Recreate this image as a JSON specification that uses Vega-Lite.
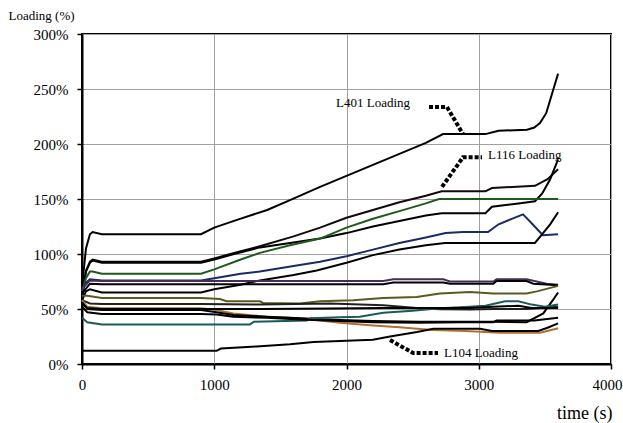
{
"$schema":"https://vega.github.io/schema/vega-lite/v6.json",
"width":529,"height":330,
"autosize":{"type":"none"},
"padding":{"left":82,"top":34,"right":12,"bottom":59},
"background":"white",
"config":{"view":{"stroke":"black","strokeWidth":2},"font":"Liberation Serif","axis":{"labelFont":"Liberation Serif","titleFont":"Liberation Serif"},"text":{"font":"Liberation Serif"}},
"datasets":{
"series":[
{"s":"S1","t":0,"v":70},{"s":"S1","t":30,"v":105},{"s":"S1","t":60,"v":118},{"s":"S1","t":80,"v":120},{"s":"S1","t":150,"v":118},{"s":"S1","t":900,"v":118},{"s":"S1","t":1000,"v":124},{"s":"S1","t":1172,"v":131},{"s":"S1","t":1400,"v":140},{"s":"S1","t":1573,"v":149},{"s":"S1","t":1800,"v":161},{"s":"S1","t":2000,"v":171},{"s":"S1","t":2200,"v":181},{"s":"S1","t":2400,"v":191},{"s":"S1","t":2600,"v":201},{"s":"S1","t":2730,"v":209},{"s":"S1","t":3050,"v":209},{"s":"S1","t":3150,"v":212},{"s":"S1","t":3365,"v":213},{"s":"S1","t":3420,"v":215},{"s":"S1","t":3463,"v":219},{"s":"S1","t":3510,"v":228},{"s":"S1","t":3540,"v":240},{"s":"S1","t":3570,"v":252},{"s":"S1","t":3600,"v":264},
{"s":"S2","t":0,"v":62},{"s":"S2","t":30,"v":85},{"s":"S2","t":60,"v":93},{"s":"S2","t":80,"v":95},{"s":"S2","t":150,"v":93},{"s":"S2","t":900,"v":93},{"s":"S2","t":1000,"v":96},{"s":"S2","t":1150,"v":101},{"s":"S2","t":1345,"v":107},{"s":"S2","t":1600,"v":116},{"s":"S2","t":1800,"v":124},{"s":"S2","t":2000,"v":133},{"s":"S2","t":2200,"v":140},{"s":"S2","t":2400,"v":147},{"s":"S2","t":2600,"v":153},{"s":"S2","t":2720,"v":157},{"s":"S2","t":3050,"v":157},{"s":"S2","t":3100,"v":160},{"s":"S2","t":3425,"v":162},{"s":"S2","t":3520,"v":168},{"s":"S2","t":3600,"v":177},
{"s":"S3","t":0,"v":60},{"s":"S3","t":30,"v":84},{"s":"S3","t":60,"v":92},{"s":"S3","t":80,"v":94},{"s":"S3","t":150,"v":92},{"s":"S3","t":900,"v":92},{"s":"S3","t":1000,"v":95},{"s":"S3","t":1150,"v":100},{"s":"S3","t":1345,"v":106},{"s":"S3","t":1573,"v":110},{"s":"S3","t":1800,"v":114},{"s":"S3","t":2000,"v":119},{"s":"S3","t":2200,"v":125},{"s":"S3","t":2400,"v":130},{"s":"S3","t":2600,"v":135},{"s":"S3","t":2720,"v":137},{"s":"S3","t":3050,"v":137},{"s":"S3","t":3100,"v":143},{"s":"S3","t":3300,"v":146},{"s":"S3","t":3425,"v":148},{"s":"S3","t":3480,"v":155},{"s":"S3","t":3540,"v":168},{"s":"S3","t":3600,"v":186},
{"s":"S4","t":0,"v":66},{"s":"S4","t":30,"v":78},{"s":"S4","t":60,"v":84},{"s":"S4","t":80,"v":84},{"s":"S4","t":150,"v":82},{"s":"S4","t":900,"v":82},{"s":"S4","t":1000,"v":86},{"s":"S4","t":1200,"v":95},{"s":"S4","t":1345,"v":101},{"s":"S4","t":1573,"v":108},{"s":"S4","t":1800,"v":114},{"s":"S4","t":2000,"v":124},{"s":"S4","t":2200,"v":132},{"s":"S4","t":2400,"v":139},{"s":"S4","t":2600,"v":146},{"s":"S4","t":2700,"v":150},{"s":"S4","t":3600,"v":150},
{"s":"S5","t":0,"v":66},{"s":"S5","t":30,"v":74},{"s":"S5","t":60,"v":77},{"s":"S5","t":150,"v":76},{"s":"S5","t":900,"v":76},{"s":"S5","t":1000,"v":78},{"s":"S5","t":1200,"v":82},{"s":"S5","t":1345,"v":84},{"s":"S5","t":1600,"v":89},{"s":"S5","t":1800,"v":93},{"s":"S5","t":2000,"v":98},{"s":"S5","t":2200,"v":104},{"s":"S5","t":2400,"v":110},{"s":"S5","t":2600,"v":115},{"s":"S5","t":2750,"v":119},{"s":"S5","t":2880,"v":120},{"s":"S5","t":3070,"v":120},{"s":"S5","t":3150,"v":127},{"s":"S5","t":3250,"v":132},{"s":"S5","t":3335,"v":136},{"s":"S5","t":3400,"v":128},{"s":"S5","t":3485,"v":117},{"s":"S5","t":3600,"v":118},
{"s":"S6","t":0,"v":58},{"s":"S6","t":30,"v":66},{"s":"S6","t":60,"v":68},{"s":"S6","t":150,"v":65},{"s":"S6","t":900,"v":65},{"s":"S6","t":1000,"v":68},{"s":"S6","t":1200,"v":72},{"s":"S6","t":1345,"v":76},{"s":"S6","t":1600,"v":81},{"s":"S6","t":1775,"v":85},{"s":"S6","t":2000,"v":92},{"s":"S6","t":2200,"v":99},{"s":"S6","t":2400,"v":104},{"s":"S6","t":2600,"v":108},{"s":"S6","t":2745,"v":110},{"s":"S6","t":3425,"v":110},{"s":"S6","t":3480,"v":118},{"s":"S6","t":3540,"v":127},{"s":"S6","t":3600,"v":138},
{"s":"S7","t":0,"v":68},{"s":"S7","t":60,"v":76},{"s":"S7","t":150,"v":75.5},{"s":"S7","t":2278,"v":75.5},{"s":"S7","t":2354,"v":77},{"s":"S7","t":2732,"v":77},{"s":"S7","t":2782,"v":75},{"s":"S7","t":3110,"v":75},{"s":"S7","t":3135,"v":77},{"s":"S7","t":3362,"v":77},{"s":"S7","t":3513,"v":73},{"s":"S7","t":3600,"v":72},
{"s":"S8","t":0,"v":64},{"s":"S8","t":60,"v":73},{"s":"S8","t":150,"v":72.5},{"s":"S8","t":2278,"v":72.5},{"s":"S8","t":2354,"v":74},{"s":"S8","t":2732,"v":74},{"s":"S8","t":2782,"v":73},{"s":"S8","t":3110,"v":73},{"s":"S8","t":3135,"v":75.5},{"s":"S8","t":3362,"v":75.5},{"s":"S8","t":3413,"v":73},{"s":"S8","t":3600,"v":71.5},
{"s":"S9","t":0,"v":62},{"s":"S9","t":40,"v":62},{"s":"S9","t":150,"v":60},{"s":"S9","t":900,"v":60},{"s":"S9","t":1043,"v":59},{"s":"S9","t":1093,"v":57},{"s":"S9","t":1345,"v":57},{"s":"S9","t":1370,"v":55.5},{"s":"S9","t":1648,"v":55},{"s":"S9","t":1800,"v":57},{"s":"S9","t":2051,"v":58},{"s":"S9","t":2278,"v":60},{"s":"S9","t":2530,"v":61},{"s":"S9","t":2707,"v":64},{"s":"S9","t":2933,"v":65.5},{"s":"S9","t":3110,"v":64},{"s":"S9","t":3362,"v":64},{"s":"S9","t":3440,"v":66},{"s":"S9","t":3600,"v":71},
{"s":"S10","t":0,"v":58},{"s":"S10","t":60,"v":55},{"s":"S10","t":150,"v":54.5},{"s":"S10","t":900,"v":54.5},{"s":"S10","t":1345,"v":54},{"s":"S10","t":1875,"v":55},{"s":"S10","t":2278,"v":53.5},{"s":"S10","t":2554,"v":50.6},{"s":"S10","t":2707,"v":49.7},{"s":"S10","t":2933,"v":49.5},{"s":"S10","t":3110,"v":50},{"s":"S10","t":3362,"v":50},{"s":"S10","t":3600,"v":52},
{"s":"S11","t":0,"v":58},{"s":"S11","t":40,"v":52},{"s":"S11","t":150,"v":50.6},{"s":"S11","t":900,"v":50.6},{"s":"S11","t":1018,"v":49},{"s":"S11","t":1144,"v":46},{"s":"S11","t":1396,"v":43},{"s":"S11","t":1648,"v":41.5},{"s":"S11","t":1951,"v":37.5},{"s":"S11","t":2200,"v":35},{"s":"S11","t":2400,"v":33.5},{"s":"S11","t":2650,"v":31},{"s":"S11","t":2900,"v":30},{"s":"S11","t":3160,"v":28.5},{"s":"S11","t":3463,"v":28.5},{"s":"S11","t":3600,"v":32.5},
{"s":"S12","t":0,"v":56},{"s":"S12","t":40,"v":50},{"s":"S12","t":150,"v":49},{"s":"S12","t":900,"v":49},{"s":"S12","t":1018,"v":47},{"s":"S12","t":1144,"v":44.5},{"s":"S12","t":1396,"v":43},{"s":"S12","t":1648,"v":41.5},{"s":"S12","t":1951,"v":40},{"s":"S12","t":2200,"v":39},{"s":"S12","t":2554,"v":38.5},{"s":"S12","t":3110,"v":38.5},{"s":"S12","t":3362,"v":38},{"s":"S12","t":3488,"v":46},{"s":"S12","t":3560,"v":58},{"s":"S12","t":3600,"v":65},
{"s":"S13","t":0,"v":12},{"s":"S13","t":1018,"v":12},{"s":"S13","t":1050,"v":14},{"s":"S13","t":1320,"v":16},{"s":"S13","t":1573,"v":18},{"s":"S13","t":1750,"v":20},{"s":"S13","t":1951,"v":21},{"s":"S13","t":2200,"v":22},{"s":"S13","t":2329,"v":25},{"s":"S13","t":2533,"v":29},{"s":"S13","t":2657,"v":32},{"s":"S13","t":3010,"v":32},{"s":"S13","t":3100,"v":30},{"s":"S13","t":3450,"v":30},{"s":"S13","t":3520,"v":33},{"s":"S13","t":3600,"v":37},
{"s":"S14","t":0,"v":42},{"s":"S14","t":40,"v":38},{"s":"S14","t":150,"v":36},{"s":"S14","t":1270,"v":36},{"s":"S14","t":1300,"v":38.5},{"s":"S14","t":1700,"v":39.5},{"s":"S14","t":1725,"v":41.5},{"s":"S14","t":1951,"v":42.5},{"s":"S14","t":2100,"v":43},{"s":"S14","t":2278,"v":46.6},{"s":"S14","t":2500,"v":48.5},{"s":"S14","t":2707,"v":50.6},{"s":"S14","t":2933,"v":52},{"s":"S14","t":3050,"v":53},{"s":"S14","t":3200,"v":57},{"s":"S14","t":3300,"v":57},{"s":"S14","t":3400,"v":54},{"s":"S14","t":3500,"v":52},{"s":"S14","t":3600,"v":54},
{"s":"S15","t":0,"v":52},{"s":"S15","t":40,"v":47},{"s":"S15","t":150,"v":45.5},{"s":"S15","t":900,"v":45.5},{"s":"S15","t":1018,"v":45},{"s":"S15","t":1144,"v":43},{"s":"S15","t":1396,"v":42},{"s":"S15","t":1648,"v":40.5},{"s":"S15","t":1951,"v":39},{"s":"S15","t":2200,"v":38},{"s":"S15","t":2554,"v":37.5},{"s":"S15","t":2858,"v":38},{"s":"S15","t":3110,"v":38},{"s":"S15","t":3135,"v":39.5},{"s":"S15","t":3420,"v":39.5},{"s":"S15","t":3600,"v":42},
{"s":"S16","t":0,"v":55},{"s":"S16","t":40,"v":51},{"s":"S16","t":150,"v":50},{"s":"S16","t":900,"v":50},{"s":"S16","t":1345,"v":50},{"s":"S16","t":1875,"v":50.5},{"s":"S16","t":2278,"v":51},{"s":"S16","t":2707,"v":51},{"s":"S16","t":2933,"v":51},{"s":"S16","t":3110,"v":52},{"s":"S16","t":3300,"v":53},{"s":"S16","t":3400,"v":51},{"s":"S16","t":3600,"v":51}
],
"leaders":[
{"g":"L401","t":2624,"v":233.6},{"g":"L401","t":2760,"v":233.6},{"g":"L401","t":2881,"v":209},
{"g":"L116","t":2722,"v":161},{"g":"L116","t":2881,"v":188},{"g":"L116","t":3025,"v":188},
{"g":"L104","t":2329,"v":21.8},{"g":"L104","t":2503,"v":10},{"g":"L104","t":2692,"v":10}
],
"labels":[
{"label":"L401 Loading","t":1921,"v":237},
{"label":"L116 Loading","t":3070,"v":190},
{"label":"L104 Loading","t":2737,"v":10}
]
},
"encoding":{
"x":{"field":"t","type":"quantitative","scale":{"domain":[0,4000],"nice":false},
"axis":{"values":[0,1000,2000,3000,4000],"format":"d","title":"time (s)","titleFontSize":18,"titleFont":"Liberation Serif","titleFontWeight":"normal","titleColor":"black","titleX":530,"titleY":49,"titleAlign":"right","titleBaseline":"middle",
"labelFont":"Liberation Serif","labelFontSize":15,"labelColor":"black","labelFlush":false,"labelOverlap":false,"labelBound":false,"labelPadding":8,
"labelAlign":{"condition":{"test":"datum.value == 4000","value":"right"},"value":"center"},
"labelOffset":{"condition":{"test":"datum.value == 4000","value":11},"value":0},
"tickSize":5,"tickColor":"black","tickWidth":1.5,"domainColor":"black","domainWidth":2,"gridColor":"#a0a0a0","gridWidth":1}},
"y":{"field":"v","type":"quantitative","scale":{"domain":[0,300],"nice":false},
"axis":{"values":[0,50,100,150,200,250,300],"labelExpr":"datum.value + '%'","title":"Loading (%)","titleAngle":0,"titleFontSize":13,"titleFont":"Liberation Serif","titleFontWeight":"normal","titleColor":"black","titleX":-74,"titleY":-19,"titleAlign":"left","titleBaseline":"middle",
"labelFont":"Liberation Serif","labelFontSize":15,"labelColor":"black","labelPadding":9,"tickSize":5,"tickColor":"black","tickWidth":1.5,"domainColor":"black","domainWidth":2,"gridColor":"#a0a0a0","gridWidth":1}}
},
"layer":[
{"data":{"name":"series"},"mark":{"type":"line","strokeWidth":2,"interpolate":"linear"},
"encoding":{"color":{"field":"s","type":"nominal","legend":null,
"scale":{"domain":["S1","S2","S3","S4","S5","S6","S7","S8","S9","S10","S11","S12","S13","S14","S15","S16"],
"range":["#000000","#140808","#000000","#1e5a1e","#1a2a66","#000000","#4a2a5a","#000000","#5a5a20","#202020","#b07030","#000000","#000000","#1a5a5a","#000000","#000000"]}}}},
{"data":{"name":"leaders"},"mark":{"type":"line","strokeWidth":4,"strokeDash":[4,2],"color":"black","strokeCap":"butt"},
"encoding":{"detail":{"field":"g","type":"nominal"}}},
{"data":{"name":"labels"},"mark":{"type":"text","align":"left","baseline":"middle","font":"Liberation Serif","fontSize":13,"color":"black"},
"encoding":{"text":{"field":"label","type":"nominal"}}}
]
}
